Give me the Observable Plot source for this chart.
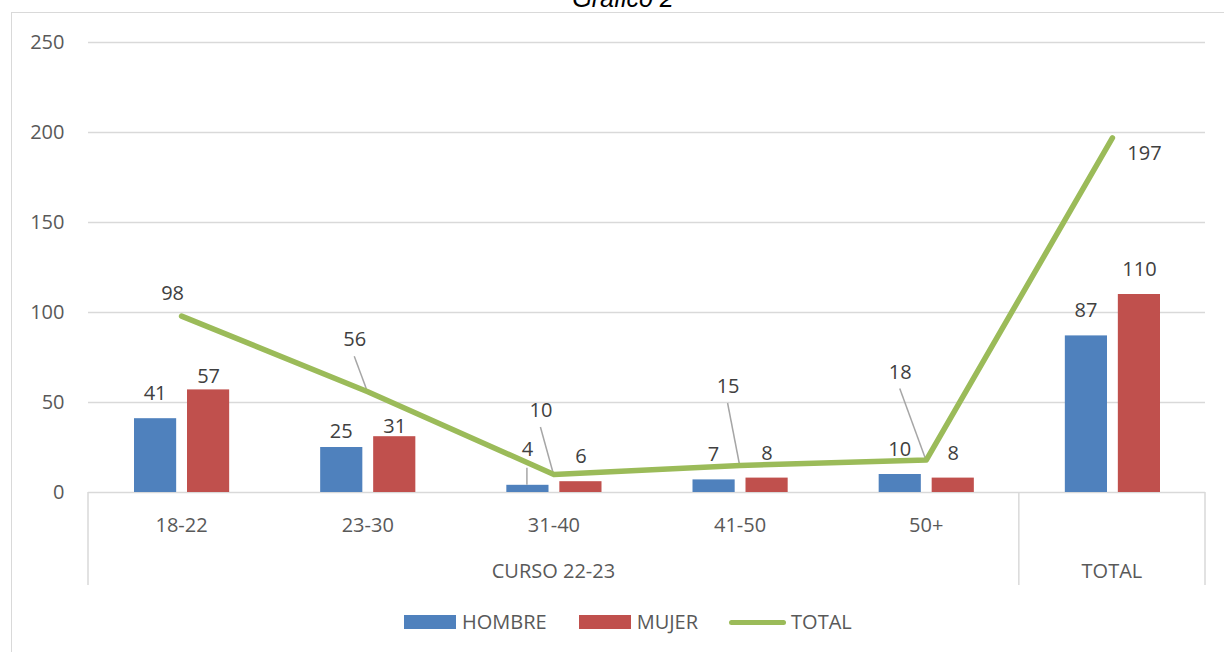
<!DOCTYPE html>
<html>
<head>
<meta charset="utf-8">
<script src="https://cdn.jsdelivr.net/npm/d3@7"></script>
<script src="https://cdn.jsdelivr.net/npm/@observablehq/plot@0.6"></script>
<style>
  html, body { margin: 0; padding: 0; background: #fff; }
  #wrap { position: relative; width: 1224px; height: 652px; overflow: hidden; background: #fff; }
  #chart { position: absolute; left: 0; top: 0; }
  #border { position: absolute; left: 11px; top: 12px; width: 1300px; height: 700px; border: 1.5px solid #d9d9d9; pointer-events: none; }
  #title { position: absolute; left: 473px; width: 300px; top: -14px; text-align: center; font-family: "Liberation Sans", Arial, sans-serif; font-style: italic; font-size: 25px; line-height: 25px; color: #000; }
  #legend { position: absolute; left: 404px; top: 612px; height: 20px; display: flex; align-items: center; font-family: "Open Sans", sans-serif; font-size: 20px; line-height: 20px; color: #595959; }
  .sw { width: 52px; height: 14px; margin-right: 6px; }
  .ln { width: 57px; height: 5px; border-radius: 3px; background: #9bbb59; margin-right: 5px; }
</style>
</head>
<body>
<div id="wrap">
  <div id="chart"></div>
  <div id="title">Gráfico 2</div>
  <div id="legend"></div>
  <div id="border"></div>
</div>
<script>
// ---- data ----
const categories = ["18-22", "23-30", "31-40", "41-50", "50+", "TOTAL"];
const groupNames = ["CURSO 22-23", "TOTAL"];
const groupSpans = [["18-22", "50+"], ["TOTAL", "TOTAL"]];
const hombre = [41, 25, 4, 7, 10, 87];
const mujer = [57, 31, 6, 8, 8, 110];
const total = [98, 56, 10, 15, 18, 197];
const yTicks = [0, 50, 100, 150, 200, 250];
const seriesNames = ["HOMBRE", "MUJER", "TOTAL"];

// ---- styles ----
const colors = { HOMBRE: "#4f81bd", MUJER: "#c0504d", TOTAL: "#9bbb59" };
const labelColor = "#404040";
const axisColor = "#595959";
const gridColor = "#d9d9d9";
const leaderColor = "#a6a6a6";
const font = "'Open Sans', sans-serif";
// extra vertical shift of bar labels (px), per category
const hombreShift = [0, 9, -11, 0, 0, 0];
const mujerShift = [12, 15, 0, 0, 0, 0];
const hombreLeader = [false, false, true, false, false, false];
// total labels: [dx, dy, leader]
const totalLabel = [[-9, -23, false], [-13, -52, true], [-13, -64, true], [-12, -79, true], [-26, -88, true], [32, 16, false]];

const hRows = categories.map((c, i) => ({ cat: c, v: hombre[i], i }));
const mRows = categories.map((c, i) => ({ cat: c, v: mujer[i], i }));
const tRows = categories.map((c, i) => ({ cat: c, v: total[i], i }));

const marks = [];
marks.push(Plot.ruleY(yTicks, { stroke: gridColor, strokeWidth: 1.3 }));
marks.push(Plot.barY(hRows, { x: "cat", y: "v", fill: colors.HOMBRE, insetLeft: 46, insetRight: 98 }));
marks.push(Plot.barY(mRows, { x: "cat", y: "v", fill: colors.MUJER, insetLeft: 99, insetRight: 45 }));

const labelBase = { x: "cat", y: "v", text: d => String(d.v), fill: labelColor, fontSize: 20, fontFamily: font, lineAnchor: "middle" };
hRows.forEach((d, i) => {
  marks.push(Plot.text([d], { ...labelBase, dx: -26.5, dy: -25 + hombreShift[i] }));
});
mRows.forEach((d, i) => {
  marks.push(Plot.text([d], { ...labelBase, dx: 27, dy: -25 + mujerShift[i] }));
});

// leader lines, group dividers and group labels drawn with the plot's scales
function extras(index, scales) {
  const x = scales.x, y = scales.y;
  const bw = x.bandwidth ? x.bandwidth() : 0;
  const cx = c => x(c) + bw / 2;
  const g = d3.create("svg:g");
  tRows.forEach((d, i) => {
    const o = totalLabel[i];
    if (!o[2]) return;
    const px = cx(d.cat), py = y(d.v);
    g.append("line").attr("x1", px + o[0]).attr("y1", py + o[1] + 17).attr("x2", px).attr("y2", py)
      .attr("stroke", leaderColor).attr("stroke-width", 1.5);
  });
  hRows.forEach((d, i) => {
    if (!hombreLeader[i]) return;
    const px = cx(d.cat) - 26.5, py = y(d.v);
    const ly = py - 25 + hombreShift[i];
    g.append("line").attr("x1", px).attr("y1", ly + 19).attr("x2", px).attr("y2", py)
      .attr("stroke", leaderColor).attr("stroke-width", 1.5);
  });
  const y0 = y(0);
  const edges = [x(groupSpans[0][0])];
  groupSpans.forEach(s => edges.push(x(s[1]) + bw));
  edges.forEach(ex => {
    g.append("line").attr("x1", ex).attr("x2", ex).attr("y1", y0).attr("y2", y0 + 93)
      .attr("stroke", gridColor).attr("stroke-width", 1.5);
  });
  groupSpans.forEach((s, k) => {
    const mid = (x(s[0]) + x(s[1]) + bw) / 2;
    g.append("text").attr("x", mid).attr("y", y0 + 79).attr("dy", "0.35em")
      .attr("text-anchor", "middle").attr("fill", axisColor)
      .attr("font-family", font).attr("font-size", 20).text(groupNames[k]);
  });
  return g.node();
}
marks.push(extras);

marks.push(Plot.line(tRows, { x: "cat", y: "v", stroke: colors.TOTAL, strokeWidth: 5.5, strokeLinecap: "round", strokeLinejoin: "round" }));
tRows.forEach((d, i) => {
  marks.push(Plot.text([d], { ...labelBase, dx: totalLabel[i][0], dy: totalLabel[i][1] }));
});

const chart = Plot.plot({
  width: 1224,
  height: 600,
  marginLeft: 88,
  marginRight: 19,
  marginTop: 42,
  marginBottom: 108,
  style: { fontFamily: font, fontSize: "20px", color: axisColor, background: "transparent", overflow: "visible" },
  x: { type: "band", domain: categories, padding: 0, round: false, tickSize: 0, tickPadding: 25, tickFormat: d => d === "TOTAL" ? "" : d, label: null },
  y: { domain: [0, 250], ticks: yTicks, tickSize: 0, tickPadding: 24, label: null },
  marks
});
document.getElementById("chart").appendChild(chart);

// legend
const legend = document.getElementById("legend");
seriesNames.forEach((name, k) => {
  const item = document.createElement("div");
  item.style.display = "flex";
  item.style.alignItems = "center";
  item.style.marginRight = k === 0 ? "32px" : "31px";
  const sw = document.createElement("div");
  if (name === "TOTAL") { sw.className = "ln"; }
  else { sw.className = "sw"; sw.style.background = colors[name]; }
  const t = document.createElement("span");
  t.textContent = name;
  item.appendChild(sw);
  item.appendChild(t);
  legend.appendChild(item);
});
</script>
</body>
</html>
